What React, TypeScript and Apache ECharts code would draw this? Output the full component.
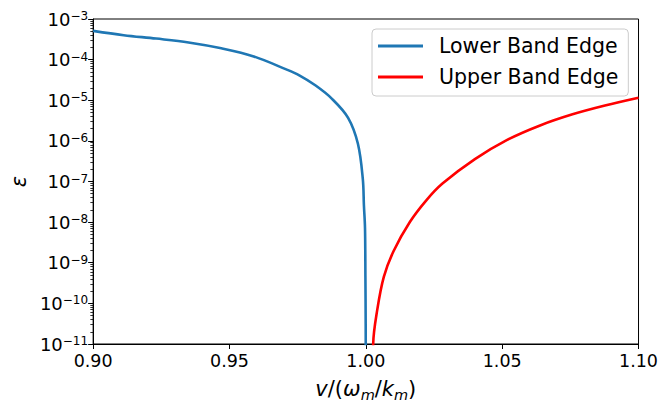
import React, { useEffect, useRef } from "react";
import * as echarts from "echarts";

// Lower band edge (blue): v/(ω_m/k_m) and ε
const lowerV = [0.9, 0.9112, 0.9231, 0.935, 0.947, 0.9589, 0.9708, 0.9756, 0.9816, 0.9875, 0.9935, 0.9971, 0.9989, 0.9993, 0.9997, 0.99985, 0.99995, 1.0];
const lowerEps = [5.1e-4, 4.0e-4, 3.3e-4, 2.65e-4, 1.9e-4, 1.2e-4, 5.75e-5, 4.1e-5, 2.3e-5, 1.1e-5, 3.7e-6, 8.5e-7, 1.15e-7, 2.6e-8, 7.2e-9, 4.6e-10, 3e-11, 1e-12];

// Upper band edge (red)
const upperV = [1.0026, 1.0027, 1.0042, 1.0066, 1.0102, 1.0162, 1.0221, 1.0281, 1.04, 1.052, 1.0639, 1.0758, 1.0877, 1.1];
const upperEps = [1e-12, 1e-11, 7e-11, 4.5e-10, 1.95e-9, 1.02e-8, 3.4e-8, 8.9e-8, 3.55e-7, 1.07e-6, 2.4e-6, 4.5e-6, 7.4e-6, 1.15e-5];

const seriesNames = ["Lower Band Edge", "Upper Band Edge"];
const seriesColors = ["#1f77b4", "#ff0000"];
const yMin = 1e-11;
const yMax = 1e-3;
const xTicks = [0.9, 0.95, 1.0, 1.05, 1.1];
const yExponents = [-11, -10, -9, -8, -7, -6, -5, -4];
const minorMultipliers = [2, 3, 4, 5, 6, 7, 8, 9];

const FONT = "DejaVu Sans";

export default function App() {
  const ref = useRef<HTMLDivElement>(null);
  useEffect(() => {
    if (!ref.current) return;
    const chart = echarts.init(ref.current, undefined, { renderer: "svg" });
    const minorTicks: number[] = [];
    yExponents.forEach((e) => minorMultipliers.forEach((m) => minorTicks.push(m * Math.pow(10, e))));
    const lower = lowerV.map((v, i) => [v, lowerEps[i]]);
    const upper = upperV.map((v, i) => [v, upperEps[i]]);
    chart.setOption({
      animation: false,
      backgroundColor: "#fff",
      grid: { left: 82, right: 20, top: 19, bottom: 55, show: true, borderColor: "#000", borderWidth: 1, backgroundColor: "transparent" },
      legend: {
        orient: "vertical",
        left: 372,
        top: 29,
        padding: [6, 10, 8, 6],
        itemWidth: 45,
        itemHeight: 3,
        itemGap: 9,
        icon: "rect",
        selectedMode: false,
        backgroundColor: "rgba(255,255,255,0.8)",
        borderColor: "#cccccc",
        borderWidth: 1,
        borderRadius: 4,
        textStyle: { fontSize: 20.5, fontFamily: FONT, color: "#000", padding: [0, 0, 0, 11], lineHeight: 22 },
        data: seriesNames,
      },
      xAxis: {
        type: "value",
        min: xTicks[0],
        max: xTicks[xTicks.length - 1],
        interval: 0.05,
        splitLine: { show: false },
        axisLine: { show: true, lineStyle: { color: "#000", width: 1 } },
        axisTick: { show: true, inside: false, length: 5, lineStyle: { color: "#000" } },
        axisLabel: { fontSize: 17.5, fontFamily: FONT, color: "#000", margin: 8, formatter: (v: number) => v.toFixed(2) },
        name: "{i|v}{n|/(}{i|ω}{s|m}{n|/}{i|k}{s|m}{n|)}",
        nameLocation: "middle",
        nameGap: 32,
        nameTextStyle: {
          rich: {
            i: { fontSize: 21, fontFamily: FONT, fontStyle: "italic", color: "#000", lineHeight: 26 },
            n: { fontSize: 21, fontFamily: FONT, color: "#000", lineHeight: 26 },
            s: { fontSize: 14.5, fontFamily: FONT, fontStyle: "italic", color: "#000", verticalAlign: "bottom" },
          },
        },
      },
      yAxis: [
        {
          type: "log",
          logBase: 10,
          min: yMin,
          max: yMax,
          splitLine: { show: false },
          axisLine: { show: true, lineStyle: { color: "#000", width: 1 } },
          axisTick: { show: true, inside: false, length: 5, lineStyle: { color: "#000" } },
          axisLabel: {
            margin: 5,
            formatter: (v: number) => {
              const e = Math.round(Math.log10(v));
              return "{b|10}{s|" + (e < 0 ? "\u2212" : "") + Math.abs(e) + "}";
            },
            rich: {
              b: { fontSize: 18, fontFamily: FONT, color: "#000", lineHeight: 18, verticalAlign: "bottom" },
              s: { fontSize: 12, fontFamily: FONT, color: "#000", verticalAlign: "top" },
            },
          },
          name: "ε",
          nameLocation: "middle",
          nameGap: 60,
          nameRotate: 90,
          nameTextStyle: { fontSize: 21, fontFamily: FONT, fontStyle: "italic", color: "#000" },
        },
        {
          type: "log",
          logBase: 10,
          min: yMin,
          max: yMax,
          position: "left",
          splitLine: { show: false },
          axisLine: { show: false },
          axisLabel: { show: false },
          axisTick: { show: true, inside: false, length: 2.8, customValues: minorTicks, lineStyle: { color: "#000", width: 0.8 } },
        },
      ],
      series: [
        {
          name: seriesNames[0],
          type: "line",
          data: lower,
          showSymbol: false,
          smooth: 0.35,
          clip: true,
          lineStyle: { color: seriesColors[0], width: 2.6 },
          itemStyle: { color: seriesColors[0] },
        },
        {
          name: seriesNames[1],
          type: "line",
          data: upper,
          showSymbol: false,
          smooth: 0.35,
          clip: true,
          lineStyle: { color: seriesColors[1], width: 2.6 },
          itemStyle: { color: seriesColors[1] },
        },
      ],
    });
    return () => chart.dispose();
  }, []);
  return <div ref={ref} style={{ width: 661, height: 407, position: "absolute", left: 0, top: 0 }} />;
}
